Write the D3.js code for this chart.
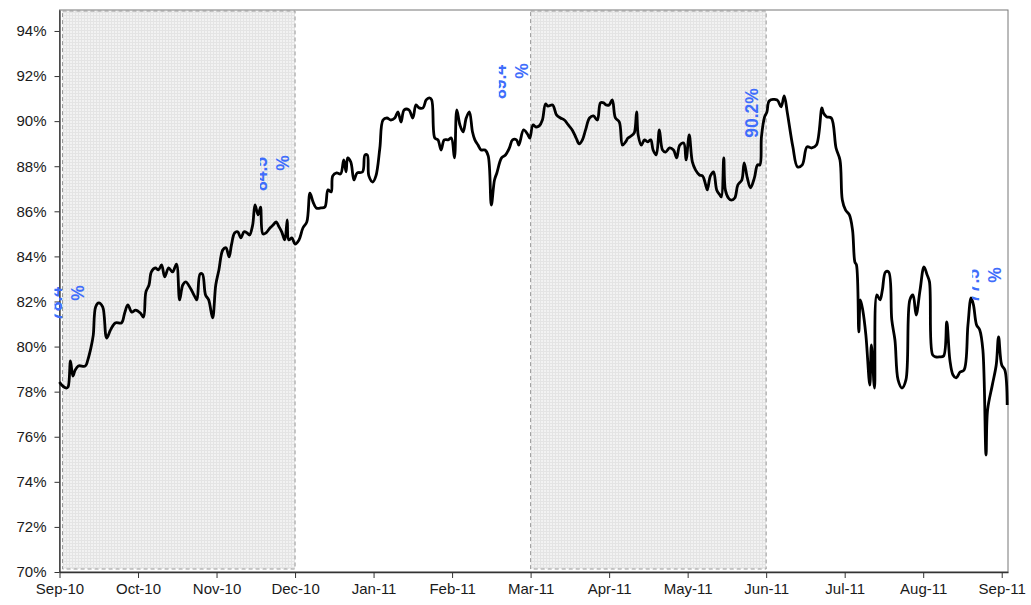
<!DOCTYPE html>
<html>
<head>
<meta charset="utf-8">
<script src="https://cdn.jsdelivr.net/npm/d3@7"></script>
<style>
  body { margin: 0; background: #fff; }
  svg text { font-family: "Liberation Sans", Arial, sans-serif; }
</style>
</head>
<body>
<svg id="chart" width="1031" height="605"></svg>
<script>
// month ticks (one per month, evenly spaced)
var monthLabels = ["Sep-10","Oct-10","Nov-10","Dec-10","Jan-11","Feb-11","Mar-11",
                   "Apr-11","May-11","Jun-11","Jul-11","Aug-11","Sep-11"];
var yTicks = [70,72,74,76,78,80,82,84,86,88,90,92,94];

// position in months since Sep-10
var monthPos = [0.00,0.03,0.09,0.11,0.14,0.17,0.20,0.24,0.33,0.36,0.40,0.43,0.46,0.50,0.55,0.60,0.65,0.71,0.79,0.83,
  0.87,0.92,0.97,1.03,1.07,1.10,1.14,1.17,1.22,1.26,1.30,1.34,1.39,1.44,1.49,1.53,1.57,1.61,1.65,1.68,
  1.72,1.75,1.79,1.82,1.86,1.90,1.95,1.99,2.03,2.08,2.12,2.16,2.19,2.23,2.27,2.31,2.35,2.39,2.42,2.46,
  2.49,2.53,2.56,2.59,2.63,2.68,2.72,2.76,2.79,2.83,2.87,2.90,2.92,2.96,3.00,3.05,3.10,3.15,3.19,3.23,
  3.27,3.33,3.38,3.42,3.46,3.48,3.53,3.58,3.62,3.65,3.67,3.71,3.75,3.79,3.86,3.89,3.92,3.94,3.99,4.03,
  4.08,4.12,4.17,4.22,4.27,4.31,4.35,4.39,4.45,4.50,4.54,4.58,4.63,4.67,4.71,4.74,4.78,4.82,4.86,4.90,
  4.95,4.99,5.03,5.06,5.10,5.14,5.18,5.22,5.26,5.29,5.33,5.37,5.42,5.46,5.50,5.54,5.57,5.63,5.68,5.73,
  5.77,5.82,5.85,5.91,5.96,5.99,6.03,6.07,6.11,6.15,6.19,6.22,6.28,6.33,6.38,6.43,6.48,6.53,6.58,6.62,
  6.66,6.70,6.75,6.80,6.85,6.89,6.93,6.96,7.00,7.04,7.08,7.13,7.17,7.21,7.24,7.28,7.32,7.35,7.37,7.41,
  7.45,7.49,7.53,7.56,7.60,7.64,7.68,7.72,7.77,7.82,7.86,7.90,7.95,7.98,8.02,8.06,8.10,8.15,8.19,8.23,
  8.25,8.29,8.33,8.37,8.41,8.43,8.46,8.48,8.52,8.56,8.60,8.64,8.69,8.72,8.76,8.80,8.85,8.89,8.92,8.94,
  8.98,9.01,9.04,9.14,9.19,9.23,9.27,9.34,9.40,9.46,9.52,9.58,9.64,9.71,9.73,9.77,9.83,9.89,9.94,9.97,
  10.01,10.06,10.10,10.13,10.15,10.18,10.20,10.23,10.27,10.32,10.34,10.38,10.41,10.45,10.48,10.52,10.56,10.60,10.64,10.68,
  10.73,10.78,10.83,10.87,10.91,10.96,11.01,11.05,11.08,11.12,11.16,11.21,11.26,11.30,11.34,11.38,11.42,11.47,11.52,11.57,
  11.61,11.64,11.68,11.72,11.76,11.80,11.82,11.88,11.93,11.96,12.00,12.04,12.07];

// rate, %
var rate = [78.43,78.29,78.16,78.21,79.36,78.69,78.96,79.14,79.14,79.40,79.94,80.51,81.76,81.94,81.76,80.38,80.74,81.05,81.05,81.49,
  81.85,81.53,81.62,81.49,81.31,82.42,82.73,83.31,83.49,83.40,83.62,83.09,83.49,83.31,83.66,82.07,82.73,82.87,82.69,82.51,
  82.24,82.07,83.22,83.22,82.29,82.07,81.27,82.73,83.40,84.29,84.38,83.98,84.51,85.04,85.09,84.82,85.09,85.04,84.95,85.39,
  86.28,85.84,86.19,85.00,85.04,85.26,85.39,85.53,85.35,85.09,84.73,85.62,84.73,84.82,84.55,84.73,85.26,85.53,86.81,86.41,
  86.15,86.15,86.19,86.95,86.86,87.57,87.70,87.66,88.28,87.75,88.37,88.19,87.39,87.70,87.75,88.50,88.50,87.57,87.30,87.57,
  88.81,90.05,90.14,90.05,90.14,90.41,89.96,90.50,90.50,90.14,90.72,90.59,90.59,90.94,91.03,90.94,89.25,89.17,88.72,89.17,
  89.17,89.25,88.37,90.50,89.83,89.52,90.14,90.41,89.52,89.17,88.94,88.72,88.72,88.46,86.28,87.39,87.70,88.37,88.50,88.81,
  89.17,89.17,88.94,89.61,89.43,89.25,89.83,89.74,89.79,90.05,90.76,90.67,90.72,90.28,90.14,90.05,89.83,89.61,89.25,88.99,
  89.17,89.61,90.14,90.23,90.05,90.81,90.81,90.72,90.72,90.94,90.14,89.96,88.94,89.08,89.25,89.34,89.48,90.41,89.39,88.94,
  89.17,89.08,89.17,88.72,88.50,89.61,88.72,88.63,88.81,88.72,88.37,88.94,89.03,88.28,89.39,88.19,87.84,87.61,87.57,87.17,
  86.95,87.57,87.75,86.95,86.73,86.64,88.37,86.95,86.59,86.50,86.59,87.17,87.39,88.15,87.48,87.04,87.48,88.06,88.06,89.30,
  90.19,90.41,90.90,90.94,90.63,91.12,90.36,88.86,87.97,88.06,88.86,88.81,88.94,90.59,90.36,90.19,90.14,88.81,88.28,86.50,
  86.06,85.84,85.17,83.75,83.62,80.65,82.07,81.62,80.51,78.29,80.07,78.16,82.29,82.07,82.51,83.31,83.31,81.18,80.29,78.52,
  78.16,78.52,82.07,82.29,81.40,82.51,83.53,83.18,82.87,79.63,79.54,79.54,79.58,81.09,79.40,78.74,78.61,78.87,78.96,80.96,
  82.16,81.85,80.96,80.74,79.85,75.19,77.19,78.29,79.18,80.43,79.18,78.96,77.41];

// shaded periods (month positions)
var shadeStart = [0, 6];
var shadeEnd = [3, 9];

// value call-outs
var calloutText = ["78.4", "84.5", "89.4", "90.2", "77.5"];
var calloutMonth = [0, 3, 6, 9, 12.07];

var svg = d3.select("#chart");
var plotL = 59.5, plotR = 1008, plotT = 10, plotB = 572;

var x = d3.scaleLinear().domain([0, 12.08]).range([plotL, plotR]);
var y = d3.scaleLinear().domain([70, 94.93]).range([plotB, plotT]);

var data = monthPos.map(function(m, i) { return { m: m, v: rate[i] }; });

// fine grid pattern for shaded periods
var defs = svg.append("defs");
var pat = defs.append("pattern")
  .attr("id", "grid").attr("width", 3).attr("height", 3)
  .attr("patternUnits", "userSpaceOnUse");
pat.append("rect").attr("width", 3).attr("height", 3).attr("fill", "#f2f2f2");
pat.append("path").attr("d", "M0,0.5H3M0.5,0V3").attr("stroke", "#e4e4e4").attr("stroke-width", 1);

// plot frame
svg.append("rect")
  .attr("x", plotL).attr("y", plotT)
  .attr("width", plotR - plotL).attr("height", plotB - plotT)
  .attr("fill", "#fff").attr("stroke", "#777").attr("stroke-width", 1);

shadeStart.forEach(function(s, i) {
  var inset = s === 0 ? 3 : 0;
  svg.append("rect")
    .attr("x", x(s) + inset).attr("y", plotT + 1)
    .attr("width", x(shadeEnd[i]) - x(s) - inset)
    .attr("height", plotB - plotT - 4)
    .attr("fill", "url(#grid)")
    .attr("stroke", "#999").attr("stroke-width", 1)
    .attr("stroke-dasharray", "4,3");
});

// axes
var yAxis = d3.axisLeft(y).tickValues(yTicks)
  .tickFormat(function(d) { return d + "%"; })
  .tickSize(5).tickSizeOuter(0).tickPadding(8);
var gy = svg.append("g").attr("transform", "translate(" + plotL + ",0)").call(yAxis);

var xAxis = d3.axisBottom(x).tickValues(d3.range(monthLabels.length))
  .tickFormat(function(d) { return monthLabels[d]; })
  .tickSize(6).tickSizeOuter(0).tickPadding(5);
var gx = svg.append("g").attr("transform", "translate(0," + plotB + ")").call(xAxis);

[gx, gy].forEach(function(g) {
  g.selectAll("path").attr("stroke", "#333").attr("stroke-width", 1.3);
  g.selectAll("line").attr("stroke", "#333");
  g.selectAll("text").attr("font-size", "15px").attr("fill", "#1a1a1a")
    .style("font-family", "'Liberation Sans', Arial, sans-serif");
});

// the series
var line = d3.line()
  .x(function(d) { return x(d.m); })
  .y(function(d) { return y(d.v); })
  .curve(d3.curveCatmullRom.alpha(0.5));

svg.append("path")
  .datum(data)
  .attr("fill", "none")
  .attr("stroke", "#000")
  .attr("stroke-width", 2.8)
  .attr("stroke-linejoin", "round")
  .attr("d", line);

// call-outs: rotated labels; all but one show only part of the number
var blue = "#3f6dfb";
var nearest = function(m) {
  var best = data[0];
  data.forEach(function(d) { if (Math.abs(d.m - m) < Math.abs(best.m - m)) best = d; });
  return best;
};
var labelDx = [-4, -34, -30, -15, -34];
var labelDy = [-78, -70, -56, 1, -119];

calloutText.forEach(function(t, i) {
  var p = nearest(calloutMonth[i]);
  var cx = x(p.m) + labelDx[i], cy = y(p.v) + labelDy[i];
  if (i === 3) {
    svg.append("text")
      .attr("transform", "translate(" + (cx + 6) + "," + cy + ") rotate(-90)")
      .attr("text-anchor", "middle")
      .attr("font-size", "17.5px").attr("font-weight", "bold")
      .attr("fill", blue).text(t + "%");
    return;
  }
  var clipId = "clip" + i;
  defs.append("clipPath").attr("id", clipId)
    .append("rect").attr("x", cx - 1).attr("y", cy - 40).attr("width", 10).attr("height", 80);
  svg.append("g").attr("clip-path", "url(#" + clipId + ")")
    .append("text")
    .attr("transform", "translate(" + (cx + 6) + "," + cy + ") rotate(-90)")
    .attr("text-anchor", "middle")
    .attr("font-size", "17.5px").attr("font-weight", "bold")
    .attr("fill", blue).text(t);
  svg.append("text")
    .attr("transform", "translate(" + (cx + 28) + "," + (cy - 11) + ") rotate(-90)")
    .attr("text-anchor", "middle")
    .attr("font-size", "17.5px").attr("font-weight", "bold")
    .attr("fill", blue).text("%");
});
</script>
</body>
</html>
